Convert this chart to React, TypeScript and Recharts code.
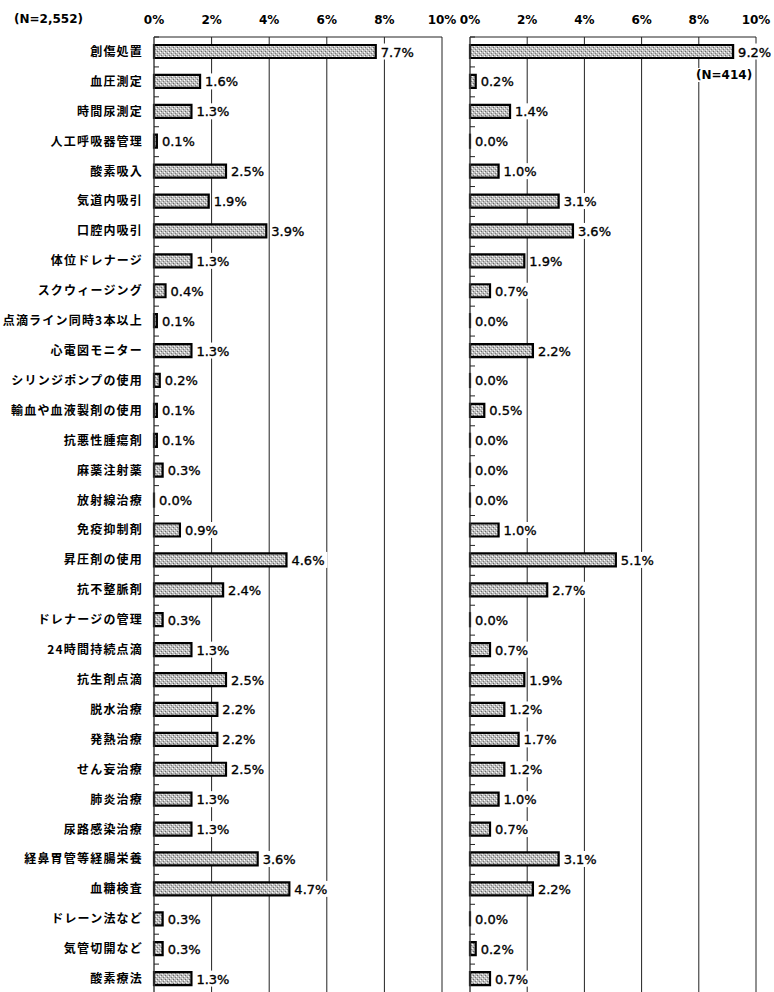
import React from 'react';
import { BarChart, Bar, XAxis, YAxis, CartesianGrid, LabelList } from 'recharts';

const categories = [
  '創傷処置', '血圧測定', '時間尿測定', '人工呼吸器管理', '酸素吸入', '気道内吸引', '口腔内吸引',
  '体位ドレナージ', 'スクウィージング', '点滴ライン同時3本以上', '心電図モニター', 'シリンジポンプの使用',
  '輸血や血液製剤の使用', '抗悪性腫瘍剤', '麻薬注射薬', '放射線治療', '免疫抑制剤', '昇圧剤の使用',
  '抗不整脈剤', 'ドレナージの管理', '24時間持続点滴', '抗生剤点滴', '脱水治療', '発熱治療', 'せん妄治療',
  '肺炎治療', '尿路感染治療', '経鼻胃管等経腸栄養', '血糖検査', 'ドレーン法など', '気管切開など', '酸素療法',
];

const leftValues = [
  7.7, 1.6, 1.3, 0.1, 2.5, 1.9, 3.9, 1.3, 0.4, 0.1, 1.3, 0.2, 0.1, 0.1, 0.3, 0.0,
  0.9, 4.6, 2.4, 0.3, 1.3, 2.5, 2.2, 2.2, 2.5, 1.3, 1.3, 3.6, 4.7, 0.3, 0.3, 1.3,
];

const rightValues = [
  9.2, 0.2, 1.4, 0.0, 1.0, 3.1, 3.6, 1.9, 0.7, 0.0, 2.2, 0.0, 0.5, 0.0, 0.0, 0.0,
  1.0, 5.1, 2.7, 0.0, 0.7, 1.9, 1.2, 1.7, 1.2, 1.0, 0.7, 3.1, 2.2, 0.0, 0.2, 0.7,
];

const xTicks = [0, 2, 4, 6, 8, 10];
const leftN = '(N=2,552)';
const rightN = '(N=414)';

const leftData = categories.map((c, i) => ({ name: c, value: leftValues[i] }));
const rightData = categories.map((c, i) => ({ name: c, value: rightValues[i] }));

const CHART_H = 1000;
const MARGIN = { top: 0, right: 18, bottom: 6, left: 0 };
const ROW_HALF = (CHART_H - 37 - 6) / categories.length / 2;

const XTick = (props: any) => {
  const { x, payload } = props;
  return (
    <text x={x} y={24} textAnchor="middle" fontFamily="DejaVu Sans" fontWeight="bold" fontSize={12} fill="#000">
      {payload.value}%
    </text>
  );
};

const makeYTick = (showLabel: boolean, axisX: number) => (props: any) => {
  const { y, payload } = props;
  return (
    <g>
      {showLabel && (
        <text x={143} y={y + 4} textAnchor="end" fontFamily="Noto Sans CJK JP" fontWeight="bold"
          fontSize={12} letterSpacing={1.2} fill="#000">
          {payload.value}
        </text>
      )}
      <line x1={axisX} x2={axisX + 5} y1={y - ROW_HALF} y2={y - ROW_HALF} stroke="#222" strokeWidth={1} />
    </g>
  );
};

const fmt = (v: any) => `${Number(v).toFixed(1)}%`;

const ValueLabel = (props: any) => {
  const { x, y, width, height, value } = props;
  const tx = Number(x) + Number(width) + 5;
  const ty = Number(y) + Number(height) / 2;
  return (
    <g>
      <rect x={tx - 1} y={ty - 8} width={37} height={16} fill="#fff" />
      <text x={tx} y={ty + 5} fontFamily="DejaVu Sans" fontSize={13} fill="#000" stroke="#000" strokeWidth={0.35}>
        {fmt(value)}
      </text>
    </g>
  );
};

const minSize = (value: any) => (Number(value) === 0 ? 0.01 : 0);

const Panel = ({ data, yWidth, showLabels, width }: any) => (
  <BarChart width={width} height={CHART_H} data={data} layout="vertical" margin={MARGIN}>
    <CartesianGrid horizontal={false} vertical={true} stroke="#222" strokeDasharray="" />
    <XAxis type="number" orientation="top" domain={[0, 10]} ticks={xTicks} height={37}
      axisLine={{ stroke: '#222', strokeWidth: 1 }} tickLine={false} tick={<XTick />} interval={0} />
    <YAxis type="category" dataKey="name" width={yWidth} interval={0} tickLine={false}
      axisLine={{ stroke: '#555', strokeWidth: 1 }} tick={makeYTick(showLabels, yWidth)} />
    <Bar dataKey="value" barSize={13} fill="url(#stipple)" stroke="#000" strokeWidth={2.2}
      minPointSize={minSize} isAnimationActive={false}>
      <LabelList dataKey="value" content={<ValueLabel />} />
    </Bar>
  </BarChart>
);

export default function App() {
  return (
    <div style={{ position: 'fixed', top: 0, left: 0, width: 774, height: 992, overflow: 'hidden', background: '#fff' }}>
      <svg width={0} height={0} style={{ position: 'absolute' }}>
        <defs>
          <pattern id="stipple" width={4} height={4} patternUnits="userSpaceOnUse">
            <rect width={4} height={4} fill="#bdbdbd" />
            <rect x={0} y={0} width={1} height={1} fill="#ffffff" />
            <rect x={2} y={2} width={1} height={1} fill="#f4f4f4" />
            <rect x={1} y={3} width={1} height={1} fill="#6a6a6a" />
            <rect x={3} y={1} width={1} height={1} fill="#7a7a7a" />
          </pattern>
        </defs>
      </svg>
      <div style={{ position: 'absolute', left: 0, top: 0 }}>
        <Panel data={leftData} yWidth={154} showLabels={true} width={460} />
      </div>
      <div style={{ position: 'absolute', left: 460, top: 0 }}>
        <Panel data={rightData} yWidth={10} showLabels={false} width={314} />
      </div>
      <div style={{ position: 'absolute', left: 14, top: 12, fontFamily: 'DejaVu Sans', fontWeight: 'bold', fontSize: 12, color: '#000' }}>
        {leftN}
      </div>
      <div style={{ position: 'absolute', left: 696, top: 68, fontFamily: 'DejaVu Sans', fontWeight: 'bold', fontSize: 12, color: '#000', background: '#fff' }}>
        {rightN}
      </div>
    </div>
  );
}
